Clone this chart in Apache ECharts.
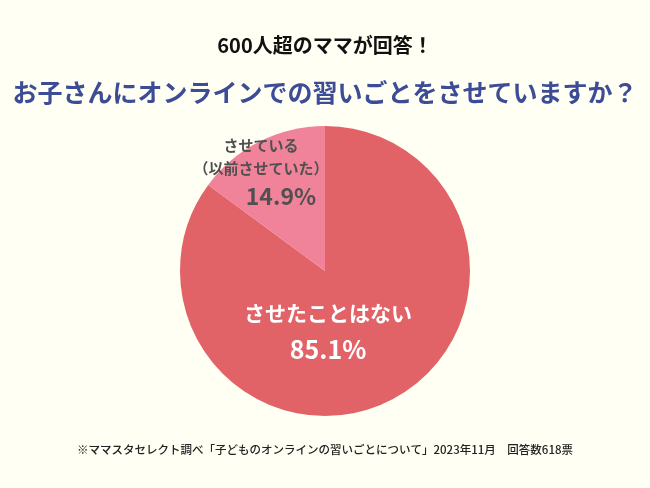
<!DOCTYPE html>
<html lang="ja">
<head>
    <meta charset="UTF-8">
    <title>オンラインの習いごと</title>
    <script src="https://cdn.jsdelivr.net/npm/echarts@6/dist/echarts.min.js"></script>
    <style>
        html, body { margin: 0; padding: 0; background: #FFFFF4; }
        #main { width: 650px; height: 488px; }
    </style>
</head>
<body>
    <div id="main"></div>
    <script type="text/javascript">
        // データ
        var categories = ['させたことはない', 'させている\n（以前させていた）'];
        var values = [85.1, 14.9];
        var colors = ['#E26367', '#F08399'];

        var headline = '600人超のママが回答！';
        var question = 'お子さんにオンラインでの習いごとをさせていますか？';
        var source = '※ママスタセレクト調べ「子どものオンラインの習いごとについて」2023年11月　回答数618票';

        var font = '"Noto Sans CJK JP", "Noto Sans", sans-serif';
        var myChart = echarts.init(document.getElementById('main'));

        myChart.setOption({
            backgroundColor: '#FFFFF4',
            animation: false,
            title: [{
                text: headline,
                left: 'center',
                top: 35,
                padding: 0,
                textStyle: { fontFamily: font, fontSize: 20, fontWeight: 'bold', color: '#111', lineHeight: 20 }
            }, {
                text: question,
                left: 'center',
                top: 79,
                padding: 0,
                textStyle: { fontFamily: font, fontSize: 25, fontWeight: 'bold', color: '#3C4C96', lineHeight: 26 }
            }, {
                text: source,
                left: 'center',
                top: 443,
                padding: 0,
                textStyle: { fontFamily: font, fontSize: 11.5, fontWeight: 500, color: '#222', lineHeight: 14 }
            }],
            series: [{
                type: 'pie',
                center: [325, 271],
                radius: 145,
                startAngle: 90,
                clockwise: true,
                silent: true,
                itemStyle: { borderWidth: 0 },
                labelLine: { show: false },
                data: [{
                    name: categories[0],
                    value: values[0],
                    itemStyle: { color: colors[0] },
                    label: {
                        position: 'inside',
                        offset: [-31, -7],
                        formatter: '{a|{b}}\n{p|{c}%}',
                        rich: {
                            a: { fontFamily: font, fontSize: 21, fontWeight: 'bold', color: '#fff', lineHeight: 36, align: 'center' },
                            p: { fontFamily: font, fontSize: 25, fontWeight: 'bold', color: '#fff', lineHeight: 36, align: 'center' }
                        }
                    }
                }, {
                    name: categories[1],
                    value: values[1],
                    itemStyle: { color: colors[1] },
                    label: {
                        position: 'inside',
                        offset: [-30, -30],
                        formatter: '{a|{b}}\n{p|{c}%}',
                        rich: {
                            a: { fontFamily: font, fontSize: 15, fontWeight: 'bold', color: '#505050', lineHeight: 23, align: 'center' },
                            p: { fontFamily: font, fontSize: 23, fontWeight: 'bold', color: '#505050', lineHeight: 34, align: 'center', padding: [0, 0, 0, 40] }
                        }
                    }
                }]
            }]
        });
    </script>
</body>
</html>
